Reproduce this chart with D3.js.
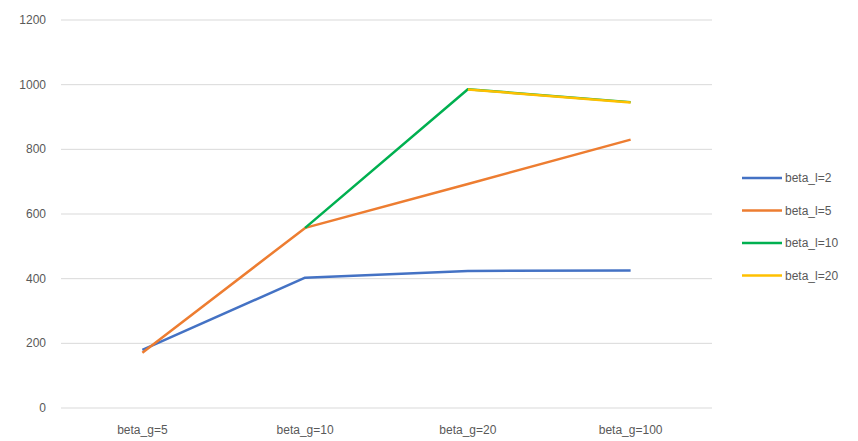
<!DOCTYPE html>
<html>
<head>
<meta charset="utf-8">
<script src="https://cdn.jsdelivr.net/npm/d3@7"></script>
<style>
  body { margin: 0; background: #fff; }
  text { font-family: "Liberation Sans", Arial, sans-serif; fill: #595959; }
</style>
</head>
<body>
<svg id="chart" width="858" height="441"></svg>
<script>
  const categories = ["beta_g=5", "beta_g=10", "beta_g=20", "beta_g=100"];
  const seriesNames = ["beta_l=2", "beta_l=5", "beta_l=10", "beta_l=20"];
  const beta_l2  = [180, 403, 424, 425];
  const beta_l5  = [171, 557, 693, 830];
  const beta_l10 = [null, 557, 986, 946];
  const beta_l20 = [null, null, 985, 945];
  const yTicks = [0, 200, 400, 600, 800, 1000, 1200];
  const colors = ["#4472C4", "#ED7D31", "#00B050", "#FFC000"];

  const svg = d3.select("#chart");
  const margin = {left: 61, right: 146, top: 20, bottom: 33};
  const width = 858, height = 441;

  const x = d3.scaleBand()
    .domain(categories)
    .range([margin.left, width - margin.right]);

  const y = d3.scaleLinear()
    .domain([0, 1200])
    .range([height - margin.bottom, margin.top]);

  // gridlines
  svg.append("g")
    .selectAll("line")
    .data(yTicks)
    .enter()
    .append("line")
      .attr("x1", margin.left)
      .attr("x2", width - margin.right)
      .attr("y1", d => y(d))
      .attr("y2", d => y(d))
      .attr("stroke", "#d9d9d9")
      .attr("stroke-width", 1);

  // y labels
  svg.append("g")
    .selectAll("text")
    .data(yTicks)
    .enter()
    .append("text")
      .attr("x", 46)
      .attr("y", d => y(d) + 4)
      .attr("text-anchor", "end")
      .style("font-size", "12px")
      .text(d => d);

  // x labels
  svg.append("g")
    .selectAll("text")
    .data(categories)
    .enter()
    .append("text")
      .attr("x", d => x(d) + x.bandwidth() / 2)
      .attr("y", height - 7)
      .attr("text-anchor", "middle")
      .style("font-size", "12px")
      .text(d => d);

  const allSeries = [beta_l2, beta_l5, beta_l10, beta_l20];

  const line = d3.line()
    .defined(d => d.v !== null)
    .x(d => x(d.c) + x.bandwidth() / 2)
    .y(d => y(d.v));

  allSeries.forEach((vals, i) => {
    svg.append("path")
      .datum(vals.map((v, j) => ({c: categories[j], v: v})))
      .attr("fill", "none")
      .attr("stroke", colors[i])
      .attr("stroke-width", 2.5)
      .attr("stroke-linejoin", "round")
      .attr("d", line);
  });

  // legend
  const legend = svg.append("g");
  seriesNames.forEach((name, i) => {
    const ly = 178 + i * 32.5;
    legend.append("line")
      .attr("x1", 742).attr("x2", 782)
      .attr("y1", ly).attr("y2", ly)
      .attr("stroke", colors[i])
      .attr("stroke-width", 2.5);
    legend.append("text")
      .attr("x", 785)
      .attr("y", ly + 4)
      .style("font-size", "12px")
      .text(name);
  });
</script>
</body>
</html>
